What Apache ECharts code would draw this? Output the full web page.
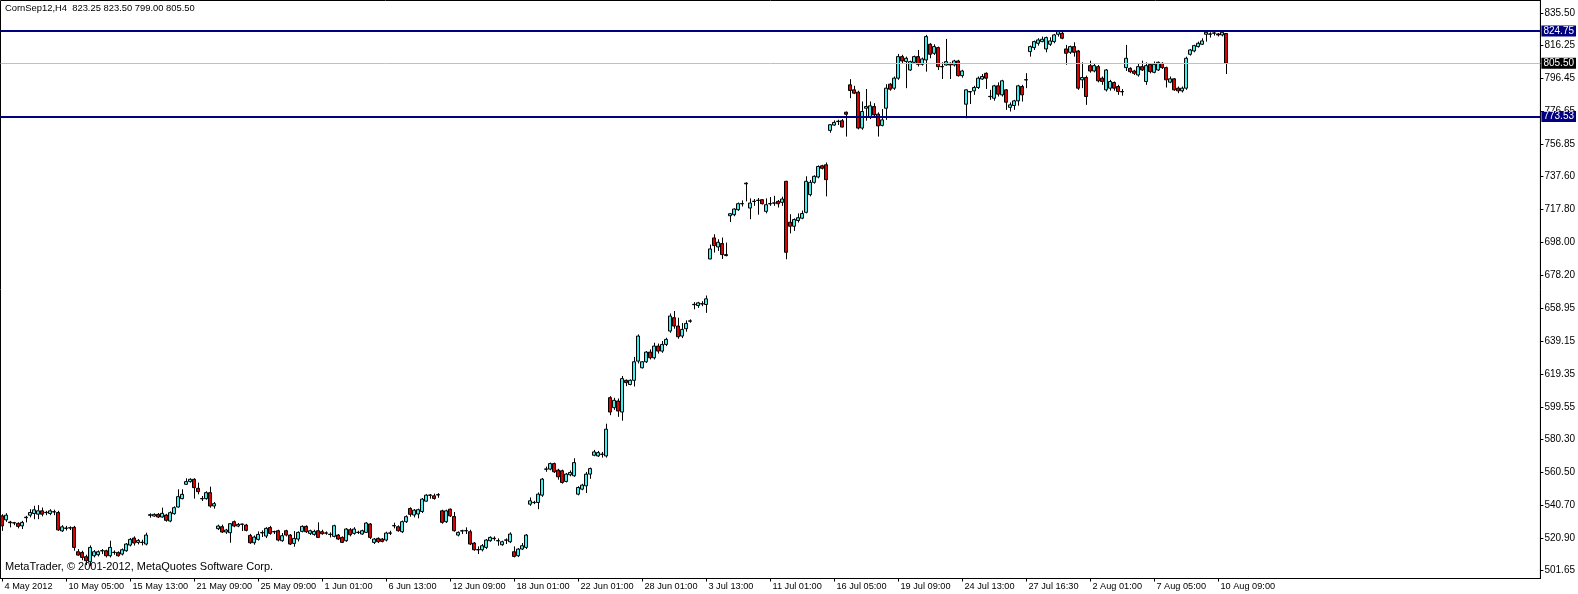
<!DOCTYPE html>
<html><head><meta charset="utf-8">
<script src="https://cdn.jsdelivr.net/npm/echarts@6/dist/echarts.min.js"></script>
<style>html,body{margin:0;padding:0;background:#fff}#c{width:1578px;height:594px}</style>
</head><body><div id="c"></div>
<script>
const symbolTitle = 'CornSep12,H4  823.25 823.50 799.00 805.50';
const copyright = 'MetaTrader, \u00a9 2001-2012, MetaQuotes Software Corp.';
const dateLabels = ['4 May 2012','10 May 05:00','15 May 13:00','21 May 09:00','25 May 09:00','1 Jun 01:00','6 Jun 13:00','12 Jun 09:00','18 Jun 01:00','22 Jun 01:00','28 Jun 01:00','3 Jul 13:00','11 Jul 01:00','16 Jul 05:00','19 Jul 09:00','24 Jul 13:00','27 Jul 16:30','2 Aug 01:00','7 Aug 05:00','10 Aug 09:00'];
const labelEvery = 16;
const totalSlots = 385;
const priceTicks = [835.50,816.25,796.45,776.65,756.85,737.60,717.80,698.00,678.20,658.95,639.15,619.35,599.55,580.30,560.50,540.70,520.90,501.65];
const levelLines = [824.75, 773.53];
const bidLine = 805.50;
// each bar: [open, close, low, high]
const barsMay = [
[534.3,528.3,525.3,535.3],[531.9,534.7,530.7,535.9],[530.6,530.2,527.4,531.3],[530.2,530.0,528.7,530.7],[529.8,528.0,526.8,530.4],
[528.3,530.4,526.4,531.3],[533.2,533.5,530.4,534.3],[534.7,536.3,533.4,538.3],[535.7,537.9,532.3,540.3],[535.3,537.3,532.3,540.7],
[537.3,535.3,534.0,539.3],[536.2,536.4,534.7,537.3],[535.7,537.3,534.7,538.3],[536.6,536.8,534.7,538.0],[536.3,525.9,525.3,537.3],
[525.3,527.7,524.7,528.7],[526.8,527.0,525.5,528.3],[527.0,527.2,525.8,528.0],[527.4,515.4,513.4,528.3],[512.8,510.8,510.4,514.4],
[512.4,509.4,507.7,513.4],[509.8,507.4,504.8,511.0],[506.8,515.4,504.2,516.6],[510.4,512.8,509.4,513.8],[511.0,512.8,510.0,513.6],
[513.3,513.5,511.4,514.4],[513.4,510.4,509.4,514.0],[510.4,515.4,509.4,519.4],[512.3,512.5,511.0,513.6],[512.4,510.4,509.8,513.0],
[511.4,514.0,510.6,514.8],[513.4,517.4,512.8,518.0],[516.8,520.2,516.0,521.0],[521.0,518.0,516.5,522.0],[518.4,519.6,517.2,520.4],
[518.3,518.5,516.6,520.0],[517.4,522.8,516.6,524.2],[534.6,535.0,533.2,535.8],[534.2,535.2,533.8,535.8],[535.2,533.6,533.0,536.0],
[533.6,535.8,533.2,539.2],[534.8,531.6,530.8,535.5],[531.2,536.2,530.5,537.0],[535.6,539.2,535.0,540.0],[539.6,545.8,539.2,550.2],
[544.6,547.2,544.2,550.2],[553.2,554.8,552.8,556.8],[554.8,556.2,554.2,556.8],[556.2,551.2,544.6,556.8],[550.8,548.8,547.2,554.2],
[544.5,544.7,543.2,546.2],[544.6,548.2,544.0,549.0],[548.2,540.2,539.2,551.8],[540.2,541.6,538.6,542.6],[526.6,528.2,525.8,529.0],
[527.8,524.6,524.0,529.0],[524.6,525.8,523.5,526.5],[524.2,529.6,518.2,530.0],[530.8,528.2,527.5,531.5],[528.2,529.2,527.5,530.0],
[529.2,529.4,525.2,529.6],[528.8,525.6,525.0,529.5],[522.6,518.2,517.5,523.5],[518.2,521.6,517.0,522.5],[520.2,523.2,519.5,525.0],
[524.1,524.3,521.6,525.6],[522.2,526.8,521.0,527.5],[527.3,523.8,523.0,528.3],[524.7,524.9,523.4,525.4],[525.4,519.8,519.0,526.0],
[519.4,522.4,518.8,524.0],[525.4,522.8,522.0,526.0],[522.8,517.4,516.8,523.4],[517.8,520.8,515.8,525.2],[520.4,524.4,519.0,525.0],
[525.0,528.0,524.4,528.6],[528.0,524.8,524.0,528.6],[523.8,525.4,522.8,526.0],[523.2,525.0,522.4,526.0],[525.4,521.4,521.0,530.4]
];
const barsJune = [
[524.8,523.6,523.0,526.0],[523.9,524.1,523.0,525.0],[523.1,523.3,521.4,524.4],[522.0,528.4,521.4,529.0],[522.8,520.4,519.8,523.4],
[521.4,518.4,518.0,522.0],[519.4,526.4,518.8,527.0],[526.0,523.0,522.0,527.0],[523.8,526.4,523.0,527.5],[524.3,524.5,523.4,525.4],
[523.4,525.4,523.0,526.0],[524.4,530.0,524.0,530.5],[529.4,521.4,520.4,530.0],[518.4,520.4,517.4,521.0],[520.8,518.8,518.0,521.4],
[520.4,519.0,518.4,521.0],[519.8,524.0,519.0,524.8],[523.9,524.1,522.8,525.4],[528.3,528.5,526.8,530.2],[527.8,525.4,524.8,528.6],
[524.8,530.8,524.0,531.5],[530.8,533.8,530.0,534.6],[538.7,535.2,533.8,539.4],[534.8,537.7,533.4,538.4],[535.4,538.0,532.8,538.6],
[536.9,544.3,536.0,545.0],[543.1,546.7,542.8,547.3],[546.6,546.8,544.6,547.3],[546.3,544.7,544.0,547.6],[546.8,547.0,545.1,547.9],
[537.3,530.4,529.6,538.0],[530.8,537.3,530.0,538.0],[538.3,534.3,533.6,538.7],[533.9,525.4,524.8,536.6],[522.8,524.4,522.0,525.0],
[525.2,525.4,523.4,526.0],[525.3,525.5,523.4,527.4],[524.8,517.4,516.8,526.0],[518.0,514.0,513.4,518.6],[513.9,514.1,511.4,516.0],
[514.0,516.4,513.0,517.4],[515.4,519.8,514.4,520.4],[519.4,521.4,518.8,522.0],[520.6,520.9,519.4,522.0],[519.3,519.5,516.4,520.8],
[517.0,518.8,516.4,519.4],[519.7,519.9,517.4,520.8],[518.8,523.4,518.0,524.4],[512.8,510.0,509.4,516.0],[510.4,514.4,509.6,515.0],
[514.4,516.4,513.8,518.0],[515.4,522.8,514.4,523.4],[541.3,543.3,540.3,545.3],[542.2,542.4,541.3,543.3],[542.3,547.3,538.3,548.3],
[546.7,556.3,545.7,557.0],[562.2,562.4,560.7,563.8],[562.3,565.6,561.6,566.2],[565.6,560.7,560.0,566.2],[561.7,557.7,556.0,562.5],
[561.3,554.3,553.6,562.0],[554.9,559.3,554.3,560.0],[558.9,560.3,558.0,561.5],[558.3,566.2,557.7,568.8],[547.3,551.3,546.6,552.0],
[550.3,552.7,549.6,553.5],[552.3,559.3,548.0,560.6],[559.3,562.6,556.5,563.2],[570.6,572.6,570.0,573.8],[570.2,572.2,569.6,573.2],
[571.1,571.3,569.2,572.6],[570.2,586.2,569.2,589.5],[605.1,596.5,594.6,606.0],[599.1,603.5,597.8,605.0],[603.1,597.1,593.6,604.6],
[596.5,616.5,591.3,618.1],[615.5,614.1,612.0,616.0],[613.0,615.5,612.5,616.0],[615.5,626.6,611.8,629.5],[627.0,642.0,625.6,643.0],
[623.0,626.6,622.6,627.0],[626.6,632.4,625.8,633.0],[632.4,629.0,628.0,634.0],[629.0,636.0,628.0,638.0],[636.0,633.0,631.5,637.5],
[633.0,637.0,632.0,639.0],[637.0,640.0,636.0,641.0],[645.0,654.0,644.0,655.5],[653.0,648.0,646.4,657.0],[648.0,641.6,640.4,653.0],
[642.0,646.0,640.8,649.8],[646.4,649.6,644.6,651.4]
];
const barsJuly = [
[650.9,651.1,650.0,652.0],[660.8,661.0,658.0,662.3],[660.3,661.9,658.9,662.5],[661.2,661.4,659.9,662.9],[660.9,664.3,655.9,666.3],
[688.2,694.2,688.0,696.8],[700.8,696.2,692.0,703.0],[695.4,698.2,693.0,700.0],[697.4,690.8,688.2,701.0],[690.8,690.2,689.8,698.0],
[714.1,715.3,710.3,715.5],[714.7,718.1,713.8,718.5],[717.7,721.3,717.0,722.0],[721.2,721.4,719.6,723.3],[733.6,733.2,722.7,734.1],
[718.7,721.7,712.0,724.5],[722.6,722.8,720.0,724.1],[723.2,723.4,714.7,724.7],[723.7,721.3,720.8,724.0],[716.7,720.7,715.5,724.5],
[721.2,721.4,720.0,725.3],[721.6,721.8,720.0,726.0],[722.7,721.3,719.0,723.5],[722.1,724.1,720.0,725.5],[734.7,692.2,688.0,735.0],
[710.2,707.8,703.5,715.0],[707.8,711.8,705.0,712.5],[711.2,712.9,710.0,715.5],[712.6,715.4,712.0,717.2],[716.1,734.7,715.5,737.7],
[726.7,734.1,725.7,735.5],[734.1,737.7,733.3,738.3],[737.3,743.6,736.5,744.2],[744.0,742.5,741.8,744.6],[744.6,735.7,725.7,746.0],
[765.2,768.6,763.8,769.0],[768.4,770.0,768.0,771.2],[770.5,770.7,768.4,771.6],[771.0,767.2,767.0,772.0],[776.1,774.9,761.5,776.5],
[792.5,789.1,784.5,795.9],[789.5,787.5,786.9,791.9],[788.1,766.6,765.8,789.0],[766.6,776.5,765.6,782.5],[778.5,779.5,771.0,790.0],
[773.2,779.9,772.0,782.5],[779.5,774.5,773.8,781.5],[774.9,767.9,761.5,776.0],[768.2,771.5,767.6,778.0],[778.5,790.5,771.5,792.9],
[792.9,789.9,789.0,793.5],[790.5,796.5,789.5,797.5],[796.5,809.4,795.5,811.0],[809.4,806.8,805.5,810.5],[806.5,808.4,790.5,809.4],
[801.4,806.4,800.8,807.0],[806.0,809.4,805.5,810.0],[809.4,804.8,803.5,813.4],[804.8,808.0,804.0,808.8],[807.4,821.4,800.4,822.4],
[816.8,810.8,808.4,817.5],[811.4,815.4,810.4,816.8],[814.8,803.4,801.4,815.4],[803.5,803.3,796.0,806.0],[804.4,806.4,804.0,820.0],
[805.4,804.4,796.0,806.0],[804.4,806.8,803.5,807.5],[806.8,798.0,797.4,807.5],[798.0,800.8,796.8,801.5],[780.9,789.5,772.5,789.8],
[788.5,788.2,781.0,788.8],[788.9,790.9,786.5,791.9],[790.9,796.5,790.0,797.5],[796.0,797.5,795.5,799.0],[799.4,796.5,790.0,800.0],
[785.4,785.6,783.5,789.5],[784.5,791.9,783.0,792.5],[791.9,786.9,785.5,794.0],[786.5,794.9,785.5,795.5],[789.5,782.1,777.5,790.0],
[779.0,780.5,776.5,782.0],[780.1,782.9,777.5,783.5],[782.9,791.9,780.0,792.5],[791.5,786.5,782.5,792.5],[795.4,795.6,790.5,799.5],
[812.4,815.4,809.4,816.0],[814.8,818.4,813.4,819.0],[817.4,819.4,816.0,820.4],[818.4,819.8,818.0,821.4],[814.0,820.8,812.0,821.4],
[816.8,818.8,815.8,821.0],[818.4,822.4,817.4,823.0],[822.8,824.4,821.4,825.2],[823.4,820.4,819.8,825.2],[814.0,811.4,804.5,816.4],
[812.0,815.4,811.0,816.0],[815.4,812.0,809.4,818.0],[812.8,790.5,789.5,813.4],[795.5,796.9,790.5,806.0],[796.9,785.5,780.5,798.0]
];
const barsAugust = [
[804.0,800.8,799.8,807.0],[800.8,804.0,800.0,805.0],[803.4,794.9,794.0,804.4],[796.5,794.5,792.5,797.5],[789.5,801.4,788.5,802.0],
[790.5,794.5,789.0,795.5],[793.9,790.5,789.0,794.5],[791.5,788.5,786.5,792.5],[788.5,788.3,786.0,790.0],[802.8,808.4,800.8,816.4],
[802.4,800.4,799.5,803.0],[800.8,799.4,798.4,801.5],[798.4,803.4,797.4,805.0],[803.4,801.4,800.8,807.0],[794.5,804.0,792.5,806.0],
[804.8,800.4,799.4,805.5],[800.0,804.8,799.4,806.5],[801.4,806.0,800.8,806.5],[805.4,802.8,802.0,806.0],[802.8,795.5,790.9,803.4],
[794.1,796.1,793.5,797.5],[796.1,789.5,788.9,796.5],[790.5,788.9,787.5,791.5],[788.9,790.5,787.9,791.5],[790.5,808.4,789.5,809.4],
[810.8,813.4,810.0,814.0],[812.8,816.0,812.0,816.5],[815.4,817.4,814.8,818.4],[816.8,818.8,816.4,820.4],[822.8,824.0,818.4,825.2],
[822.8,823.0,820.8,824.0],[823.4,823.6,822.0,824.4],[823.0,822.4,821.5,823.5],[822.4,824.0,821.5,824.8],[823.25,805.50,799.00,823.50]
];

const bars = [].concat(barsMay, barsJune, barsJuly, barsAugust);
const categories = [];
for (let i = 0; i < totalSlots; i++) categories.push(String(i));
const isLabelSlot = (idx) => idx % labelEvery === 0 && idx / labelEvery < dateLabels.length;

const FONT = "'Liberation Sans', Arial, sans-serif";
const chart = echarts.init(document.getElementById('c'), null, {renderer: 'canvas'});
const lineLabel = (bg) => ({
  show: true, position: 'end', distance: 1,
  formatter: (p) => p.value.toFixed(2),
  color: '#fff', backgroundColor: bg, padding: [1, 2, 0, 2],
  fontFamily: FONT, fontSize: 10
});
chart.setOption({
  animation: false,
  backgroundColor: '#fff',
  grid: {left: 0.5, right: 37.5, top: 0.5, bottom: 15.5, show: true, borderColor: '#000', borderWidth: 1, backgroundColor: 'transparent'},
  xAxis: {
    type: 'category', data: categories, boundaryGap: true,
    axisLine: {show: true, lineStyle: {color: '#000', width: 1}},
    axisTick: {show: true, alignWithLabel: true, length: 3, interval: (idx) => isLabelSlot(idx), lineStyle: {color: '#000'}},
    axisLabel: {
      show: true, interval: (idx) => isLabelSlot(idx), align: 'left', margin: 3, padding: [0, 0, 0, 2],
      formatter: (v, idx) => isLabelSlot(idx) ? dateLabels[idx / labelEvery] : '',
      color: '#000', fontFamily: FONT, fontSize: 9.2
    },
    splitLine: {show: false}
  },
  yAxis: {
    type: 'value', position: 'right', scale: true, min: 496.77, max: 843.02,
    axisLine: {show: true, lineStyle: {color: '#000'}},
    axisTick: {show: true, length: 3, customValues: priceTicks, lineStyle: {color: '#000'}},
    axisLabel: {show: true, customValues: priceTicks, formatter: (v) => v.toFixed(2), margin: 4, color: '#000', fontFamily: FONT, fontSize: 10},
    splitLine: {show: false}
  },
  graphic: [
    {type: 'text', left: 5, top: 4, style: {text: symbolTitle, fill: '#000', font: '9.4px ' + FONT}},
    {type: 'text', left: 5, top: 561, style: {text: copyright, fill: '#000', font: '11px ' + FONT}}
  ],
  series: [{
    type: 'candlestick', data: bars, barWidth: 3.5,
    itemStyle: {color: '#40F0F0', color0: '#E00000', borderColor: '#000', borderColor0: '#000', borderWidth: 1},
    markLine: {
      silent: true, symbol: ['none', 'none'], animation: false,
      data: [
        {yAxis: bidLine, lineStyle: {color: '#C0C0C0', width: 1, type: 'solid'}, label: lineLabel('#000')},
        {yAxis: levelLines[0], lineStyle: {color: '#000080', width: 2, type: 'solid'}, label: lineLabel('#000080')},
        {yAxis: levelLines[1], lineStyle: {color: '#000080', width: 2, type: 'solid'}, label: lineLabel('#000080')}
      ]
    }
  }]
});
</script></body></html>
